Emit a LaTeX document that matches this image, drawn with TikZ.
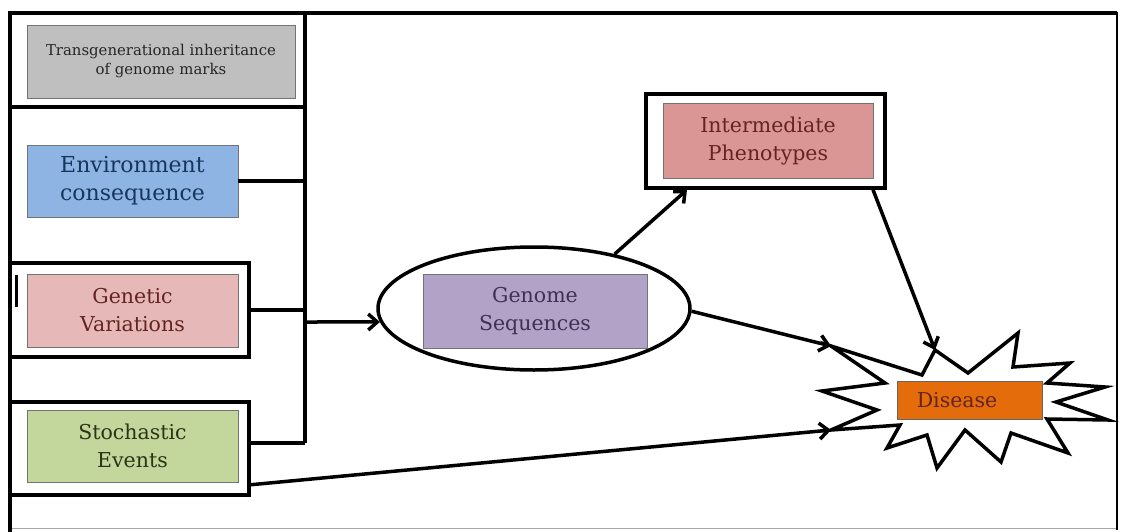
\documentclass[tikz,border=0pt]{standalone}
\usepackage{fontspec}
\setmainfont{DejaVu Serif}
\usetikzlibrary{arrows.meta,shapes.geometric,calc}
\definecolor{cGray}{HTML}{BFBFBF}
\definecolor{cBlue}{HTML}{8EB4E3}
\definecolor{cPink}{HTML}{E6B9B8}
\definecolor{cGreen}{HTML}{C3D69B}
\definecolor{cPurple}{HTML}{B3A2C7}
\definecolor{cRose}{HTML}{D99694}
\definecolor{cOrange}{HTML}{E46C0A}
\definecolor{tGray}{HTML}{262626}
\definecolor{tBlue}{HTML}{17365D}
\definecolor{tRed}{HTML}{632423}
\definecolor{tGreen}{HTML}{2A3517}
\definecolor{tPurple}{HTML}{3F3151}
\begin{document}
\begin{tikzpicture}[x=1pt,y=-1pt,
  panel/.style={draw=black, line width=3.5pt, inner sep=0pt},
  inbox/.style={draw=black!55, line width=0.8pt, align=center, inner sep=0pt},
  big/.style={font=\fontsize{20.5}{28}\selectfont},
  conn/.style={line width=3.5pt, black},
  arr/.style={conn, -{Straight Barb[length=9pt,width=16pt,line width=3.5pt]}},
]
\useasboundingbox (0,0) rectangle (1121,532);

% outer frame
\draw[line width=1pt, black!35] (10,528) -- (1117,528);
\draw[line width=3.5pt] (10,532) -- (10,13) -- (1117,13);
\draw[line width=2.5pt] (1117,12) -- (1117,530);

% left panel
\coordinate (busTop) at (305,13);
\coordinate (busBot) at (305,443);
\coordinate (bus) at (305,322);
\draw[panel] (10,107) -- (305,107);
\draw[conn] (busTop) -- (busBot);

\node[inbox, fill=cGray, minimum width=268pt, minimum height=73pt, text=tGray,
  font=\fontsize{14.9}{19}\selectfont] (trans) at (161,61.5)
  {\raisebox{5pt}{\begin{tabular}{@{}c@{}}Transgenerational inheritance\\of genome marks\end{tabular}}};

\node[inbox, fill=cBlue, minimum width=211pt, minimum height=72pt, text=tBlue, font=\fontsize{22}{28}\selectfont] (env) at (132.5,181) {Environment\\consequence};

\node[panel, minimum width=239pt, minimum height=94pt] (genout) at (129.5,310) {};
\node[inbox, big, fill=cPink, minimum width=211pt, minimum height=73pt, text=tRed] (gen) at (132.5,310.5) {Genetic\\Variations};
\draw[line width=3pt] (16,275) -- (16,307);

\node[panel, minimum width=239pt, minimum height=93pt] (stout) at (129.5,448.5) {};
\node[inbox, big, fill=cGreen, minimum width=211pt, minimum height=72pt, text=tGreen] (sto) at (132.5,446) {Stochastic\\Events};

\draw[conn] (env.east) -- (env.east -| bus);
\draw[conn] (genout.east) -- (genout.east -| bus);
\draw[conn] ([yshift=5.5pt]stout.east) -- ([yshift=5.5pt]stout.east -| bus);

% genome
\node[ellipse, draw, line width=3.5pt, minimum width=312pt, minimum height=123pt, inner sep=0pt] (ell) at (534,308.5) {};
\node[inbox, big, fill=cPurple, minimum width=224pt, minimum height=74pt, text=tPurple] (gs) at (535,311) {Genome\\Sequences};

% intermediate
\node[panel, minimum width=239pt, minimum height=94pt] (intout) at (765.5,141) {};
\node[inbox, big, fill=cRose, minimum width=210pt, minimum height=75pt, text=tRed] (inter) at (768,140.5) {Intermediate\\Phenotypes};

% star
\coordinate (sTop) at (935,350);
\coordinate (sTL) at (831,346);
\coordinate (sBL) at (831,430);
\draw[line width=3.5pt, fill=white, line join=miter] (sTop) -- (968,373) -- (1018,333) -- (1013,367) -- (1070,363) -- (1047,383)
  -- (1105,387) -- (1056,402) -- (1108,420) -- (1047,419) -- (1068,453) -- (1011,433) -- (1001,462)
  -- (965,430) -- (937,468) -- (927,435) -- (887,448) -- (900,425) -- (sBL) -- (877,410) -- (822,391)
  -- (885,383) -- (sTL) -- (922,375) -- cycle;
\node[draw=black!60, line width=0.8pt, fill=cOrange, minimum width=145pt, minimum height=38pt, inner sep=0pt, text=tRed, big] (dis) at (969.5,400) {\hspace*{-25pt}Disease};

% arrows
\draw[arr] (bus) -- (ell.185);
\draw[arr] (ell.34.4) -- ([xshift=-78.5pt]intout.south);
\draw[arr] ([xshift=107.5pt]intout.south) -- (sTop);
\draw[arr] (ell.-1) -- (sTL);
\draw[arr] ([yshift=12pt]stout.south east) -- (sBL);
\end{tikzpicture}
\end{document}
